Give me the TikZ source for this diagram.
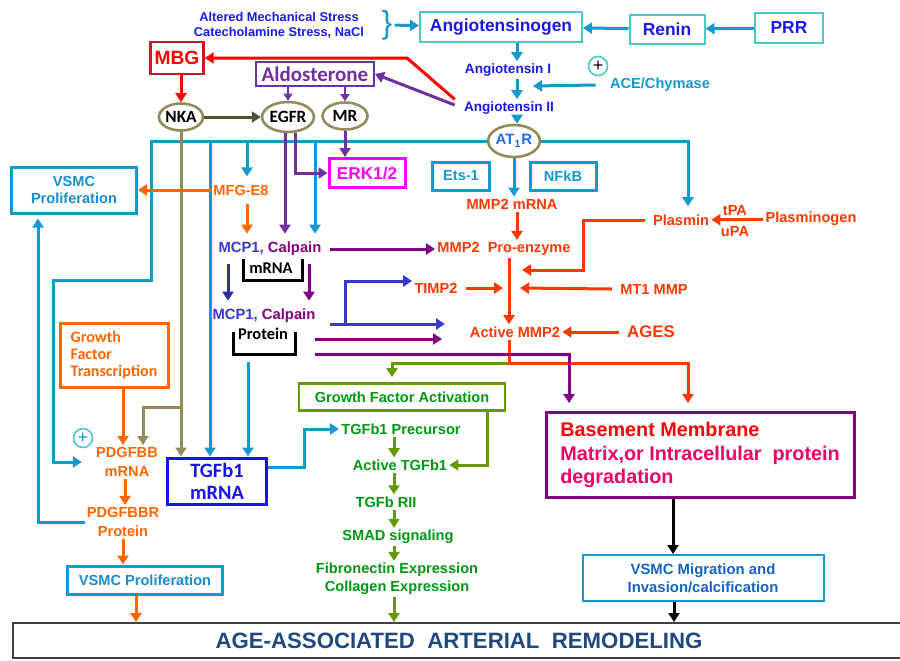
\documentclass[tikz,border=0pt]{standalone}
\usepackage{fontspec}
\setmainfont{Liberation Sans}
\newfontfamily\calfont{Carlito}
\usetikzlibrary{arrows.meta,shapes.geometric}

\definecolor{cyanln}{RGB}{22,152,205}
\definecolor{turq}{RGB}{75,200,200}
\definecolor{royal}{RGB}{25,25,230}
\definecolor{orng}{RGB}{255,102,0}
\definecolor{mmpred}{RGB}{255,55,0}
\definecolor{aldo}{RGB}{112,48,160}
\definecolor{plum}{RGB}{128,0,128}
\definecolor{khaki}{RGB}{148,138,90}
\definecolor{darkkhaki}{RGB}{80,80,50}
\definecolor{leaf}{RGB}{102,153,0}
\definecolor{grn}{RGB}{0,150,20}
\definecolor{mcp}{RGB}{55,55,210}
\definecolor{navy}{RGB}{50,50,150}
\definecolor{slate}{RGB}{31,73,125}
\definecolor{rosered}{RGB}{240,0,100}
\definecolor{mbgred}{RGB}{195,30,40}
\definecolor{vsmctxt}{RGB}{25,140,205}
\definecolor{migtxt}{RGB}{20,100,190}
\definecolor{at1txt}{RGB}{30,110,235}
\definecolor{tgfblue}{RGB}{20,20,235}
\definecolor{erkpink}{RGB}{255,0,255}

\begin{document}
\begin{tikzpicture}[x=0.5pt,y=-0.5pt,
  every node/.style={font=\bfseries\fontsize{7.3}{8.5}\selectfont,inner sep=1pt},
  ln/.style={line width=1.5pt},
  arr/.style={line width=1.5pt,-{Triangle[length=4.5pt,width=5.5pt]}},
  tarr/.style={line width=1pt,-{Triangle[length=3.5pt,width=4.5pt]}},
  bx/.style={draw,line width=1.5pt,minimum height=14pt},
  agtbox/.style={draw=turq,line width=1pt,text=royal,minimum height=15pt,font=\bfseries\fontsize{8.7}{10}\selectfont},
  oval/.style={ellipse,draw=khaki,line width=1.3pt,inner sep=0pt,font=\calfont\bfseries\fontsize{8.6}{10}\selectfont},
  pluscirc/.style={circle,draw=turq,line width=0.8pt,inner sep=0pt,minimum size=9.5pt,font=\fontsize{9}{9}\selectfont}]
\useasboundingbox (0,0) rectangle (900,660);

% renin - angiotensin chain
\node[text=royal,align=center,font=\bfseries\fontsize{6.4}{7.6}\selectfont] (stress) at (279,25) {Altered Mechanical Stress\\Catecholamine Stress, NaCl};
\node[text=cyanln,font=\fontsize{16}{16}\selectfont] (brace) at (387,25) {\}};
\node[agtbox,minimum width=81pt] (agt) at (501,27) {Angiotensinogen};
\node[agtbox,minimum width=37.5pt,minimum height=14.5pt] (renin) at (667,29) {Renin};
\node[agtbox,minimum width=34pt] (prr) at (789,28) {PRR};
\node[text=royal,font=\bfseries\fontsize{6.8}{8}\selectfont] (ang1) at (508,70) {Angiotensin I};
\node[text=royal,font=\bfseries\fontsize{6.8}{8}\selectfont] (ang2) at (509,108) {Angiotensin II};
\node[text=cyanln] (ace) at (660,85) {ACE/Chymase};
\node[pluscirc] (plusA) at (598,66) {+};
\node[oval,minimum width=25pt,minimum height=16pt,text=at1txt,font=\bfseries\fontsize{7.5}{9}\selectfont] (at1r) at (514,141) {AT\textsubscript{1}R};
\node[bx,draw=cyanln,text=cyanln,minimum width=28.5pt] (ets) at (461,176) {Ets-1};
\node[bx,draw=cyanln,text=cyanln,minimum width=33pt] (nfkb) at (563,176) {NFkB};

% MMP2 activation
\node[text=mmpred] (mmpm) at (512,204) {MMP2 mRNA};
\node[text=mmpred] (proenz) at (504,249) {MMP2\ \ Pro-enzyme};
\node[text=mmpred] (plasmin) at (681,220) {Plasmin};
\node[text=mmpred] (plgn) at (811,219) {Plasminogen};
\node[text=mmpred] (tpa) at (735,211) {tPA};
\node[text=mmpred] (upa) at (735,232) {uPA};
\node[text=mmpred] (timp) at (436,288) {TIMP2};
\node[text=mmpred] (mt1) at (654,289) {MT1 MMP};
\node[text=mmpred] (actmmp) at (515,332) {Active MMP2};
\node[text=mmpred,font=\bfseries\fontsize{8.4}{10}\selectfont] (ages) at (651,332) {AGES};

% MBG, aldosterone, receptors
\node[bx,draw=mbgred,line width=1.2pt,text=red,minimum width=26.5pt,minimum height=16pt,font=\bfseries\fontsize{9.6}{11}\selectfont] (mbg) at (177,58) {MBG};
\node[bx,draw=aldo,line width=1pt,text=aldo,minimum width=59pt,minimum height=12pt,font=\calfont\bfseries\fontsize{10.5}{12}\selectfont] (aldo) at (315,74) {Aldosterone};
\node[oval,minimum width=21.5pt,minimum height=13.5pt] (nka) at (181,117) {NKA};
\node[oval,minimum width=25pt,minimum height=15pt] (egfr) at (288,117) {EGFR};
\node[oval,minimum width=22.5pt,minimum height=13.5pt] (mr) at (345,116) {MR};
\node[bx,draw=erkpink,text=erkpink,minimum width=38pt,minimum height=14.5pt,font=\bfseries\fontsize{8.6}{10}\selectfont] (erk) at (367,173) {ERK1/2};

% MFG-E8, MCP1 and calpain
\node[bx,draw=cyanln,text=vsmctxt,align=center,minimum width=62.5pt,minimum height=23pt] (vsmcA) at (74,190) {VSMC\\Proliferation};
\node[text=orng] (mfg) at (241,190) {MFG-E8};
\node[text=mcp,font=\bfseries\fontsize{7.4}{9}\selectfont] (mcpm) at (270,249) {MCP1, \textcolor{plum}{Calpain}};
\node[font=\calfont\bfseries\fontsize{8.2}{10}\selectfont] (mrna) at (271,268) {mRNA};
\node[text=mcp,font=\bfseries\fontsize{7.4}{9}\selectfont] (mcpp) at (264,316) {MCP1, \textcolor{plum}{Calpain}};
\node[font=\calfont\bfseries\fontsize{8.2}{10}\selectfont] (prot) at (263,334) {Protein};
\draw[line width=1.5pt] (243,259) |- (302,280) -- (302,259);
\draw[line width=1.5pt] (233,332) |- (295,354) -- (295,332);

% PDGF branch
\node[bx,draw=orng,text=orng,align=left,minimum width=54pt,minimum height=32pt,font=\calfont\bfseries\fontsize{8}{8.5}\selectfont] (gft) at (114,355) {Growth\\Factor\\Transcription};
\node[pluscirc,text=cyanln] (plusB) at (83,438) {+};
\node[text=orng,align=center,font=\bfseries\fontsize{7.3}{9.5}\selectfont] (pdgf) at (127,462) {PDGFBB\\mRNA};
\node[text=orng,align=center,font=\bfseries\fontsize{7.3}{9.5}\selectfont] (pdgfr) at (123,522) {PDGFBBR\\Protein};
\node[bx,draw=cyanln,text=vsmctxt,minimum width=77.5pt] (vsmcB) at (145,580) {VSMC Proliferation};
\node[bx,draw=tgfblue,text=tgfblue,align=center,minimum width=49.5pt,minimum height=23pt,font=\calfont\bfseries\fontsize{10.2}{11}\selectfont] (tgfm) at (217,481) {TGFb1\\mRNA};

% TGF-beta signalling
\node[bx,draw=leaf,line width=1.3pt,text=grn,minimum width=103pt,minimum height=13.5pt] (gfa) at (402,397) {Growth Factor Activation};
\node[text=grn] (prec) at (401,429) {TGFb1 Precursor};
\node[text=grn] (acttgf) at (400,465) {Active TGFb1};
\node[text=grn] (rii) at (386,502) {TGFb RII};
\node[text=grn] (smad) at (398,537) {SMAD signaling};
\node[text=grn,align=center,font=\bfseries\fontsize{7.3}{9}\selectfont] (fibro) at (397,579) {Fibronectin Expression\\Collagen Expression};

% degradation and outcome
\node[bx,draw=plum,text=rosered,align=left,minimum width=154pt,minimum height=42.5pt,font=\bfseries\fontsize{9.9}{11.75}\selectfont] (bm) at (700,455) {\textcolor{red}{Basement Membrane}\\Matrix,or Intracellular\ \ protein\\degradation};
\node[bx,draw=cyanln,line width=1pt,text=migtxt,align=center,minimum width=120.5pt,minimum height=23pt,font=\bfseries\fontsize{7.45}{9}\selectfont] (mig) at (703,578) {VSMC Migration and\\Invasion/calcification};
\node[draw=black!75,line width=1pt,text=slate,anchor=west,minimum width=462pt,minimum height=17.5pt,font=\bfseries\fontsize{11.1}{13}\selectfont] (remod) at (12,640.5) {AGE-ASSOCIATED\ \ ARTERIAL\ \ REMODELING\hspace*{16pt}};

% connectors: angiotensin chain
\draw[arr,cyanln] (brace) -- (agt);
\draw[arr,cyanln] (renin) -- (agt);
\draw[arr,cyanln] (prr) -- (renin);
\draw[arr,cyanln] ([xshift=8pt]agt.south) -- ([xshift=8pt]agt.south |- ang1.north);
\draw[arr,cyanln] ([xshift=4.5pt]ang1.south) -- ([xshift=4.5pt]ang1.south |- ang2.north);
\draw[arr,cyanln] ([xshift=4pt]ang2.south) -- ([xshift=4pt]ang2.south |- at1r.north);
\coordinate (aceTip) at (533,86);
\draw[arr,cyanln] ([xshift=-6pt]ace.west) -- (aceTip);

% AT1R outputs
\coordinate (busBend) at (151,280);
\coordinate (busLeft) at (53,280);
\coordinate (tapTgf) at (210,141);
\coordinate (tapMfg) at (247,141);
\coordinate (tapMcp) at (315,141);
\draw[arr,cyanln] (at1r.west) -| (busBend) -- (busLeft) |- ([xshift=-6pt]pdgf.west);
\draw[arr,cyanln] (tapTgf) -- (tapTgf |- tgfm.north);
\draw[arr,cyanln] (tapMfg) -- ([yshift=3pt]tapMfg |- mfg.north);
\draw[arr,cyanln] (tapMcp) -- ([yshift=3pt]tapMcp |- mcpm.north);
\draw[arr,cyanln] (at1r.east) -| ([xshift=3.5pt,yshift=3pt]plasmin.north);
\draw[arr,cyanln] (at1r.south) -- (at1r.south |- mmpm.north);

% MMP2 cascade
\draw[arr,mmpred] ([xshift=2.5pt]mmpm.south) -- ([xshift=2.5pt]mmpm.south |- proenz.north);
\draw[arr,mmpred] ([xshift=2.5pt]proenz.south) -- ([xshift=2.5pt]proenz.south |- actmmp.north);
\draw[arr,mmpred] (plgn) -- (plasmin);
\coordinate (plTip) at (522,270);
\draw[arr,mmpred] ([xshift=-3pt]plasmin.west) -| ([xshift=30.5pt]plTip) -- (plTip);
\coordinate (timTip) at (503,288);
\draw[arr,mmpred] ([xshift=3pt]timp.east) -- (timTip);
\coordinate (mtTip) at (520,288);
\draw[arr,mmpred] ([xshift=-3pt]mt1.west) -- (mtTip);
\draw[arr,mmpred] ([xshift=-3pt]ages.west) -- (actmmp.east);
\coordinate (split) at (509,363);
\draw[arr,leaf] (split) -| ([xshift=-5pt,yshift=2.5pt]gfa.north);
\draw[arr,mmpred] ([xshift=-3pt]actmmp.south) -- (split) -| ([xshift=-6pt,yshift=4pt]bm.north);

% MCP1 / calpain outputs
\draw[arr,plum] ([xshift=3pt]mcpm.east) -- (proenz.west);
\draw[arr,navy] ([xshift=-21pt,yshift=-3pt]mcpm.south) -- ([xshift=-21pt,yshift=3pt]mcpm.south |- mcpp.north);
\draw[arr,plum] ([xshift=19.5pt,yshift=-3pt]mcpm.south) -- ([xshift=19.5pt,yshift=3pt]mcpm.south |- mcpp.north);
\coordinate (blueStart) at (330,324);
\coordinate (blueEnd) at (445,324);
\coordinate (timpBr) at (345,324);
\draw[arr,mcp] (blueStart) -- (blueEnd);
\draw[arr,mcp] (timpBr) |- ([yshift=3.5pt]timp.west);
\coordinate (purA) at (315,339);
\coordinate (purAend) at (442,339);
\draw[arr,plum] (purA) -- (purAend);
\coordinate (purB) at (315,354);
\draw[arr,plum] (purB) -| ([xshift=-65.5pt,yshift=4pt]bm.north);
\draw[arr,cyanln] ([xshift=-7.5pt,yshift=-10pt]prot.south) -- ([xshift=-7.5pt]prot.south |- tgfm.north);

% receptors
\coordinate (mbgBend) at (407,58);
\draw[arr,red] ([xshift=-3.5pt]ang2.north west) -- (mbgBend) -- (mbg.east);
\draw[arr,aldo] ([xshift=-3.5pt,yshift=1.5pt]ang2.west) -- (aldo.east);
\draw[arr,red] (mbg.south -| nka.north) -- (nka.north);
\draw[arr,darkkhaki] (nka) -- (egfr);
\draw[tarr,aldo] (aldo.south -| egfr.north) -- (egfr.north);
\draw[tarr,aldo] (aldo.south -| mr.north) -- (mr.north);
\draw[arr,aldo] ([xshift=-1.5pt]egfr.south) -- ([xshift=-1.5pt,yshift=3pt]egfr.south |- mcpm.north);
\draw[arr,aldo] ([xshift=3.5pt]egfr.south) |- (erk.west);
\draw[arr,aldo] (mr.south) -- (mr.south |- erk.north);
\draw[arr,khaki] (nka.south) -- (nka.south |- tgfm.north);
\coordinate (kBranch) at (181,407);
\draw[arr,khaki] (kBranch) -| ([xshift=8pt]pdgf.north);

% left side
\draw[arr,orng] (mfg) -- (vsmcA);
\draw[arr,orng] ([xshift=3pt,yshift=-3pt]mfg.south) -- ([xshift=3pt,yshift=3pt]mfg.south |- mcpm.north);
\draw[arr,orng] ([xshift=4.5pt]gft.south) -- ([xshift=4.5pt]gft.south |- pdgf.north);
\draw[arr,orng] ([xshift=-1pt]pdgf.south) -- ([xshift=-1pt]pdgf.south |- pdgfr.north);
\draw[arr,orng] (pdgfr.south) -- (pdgfr.south |- vsmcB.north);
\draw[arr,cyanln] (pdgfr.west) -| ([xshift=-18pt,yshift=-2pt]vsmcA.south);
\draw[arr,orng] ([xshift=-4.5pt]vsmcB.south) -- ([xshift=-4.5pt]vsmcB.south |- remod.north);
\draw[arr,cyanln] ([yshift=7pt]tgfm.east) -- ++(18pt,0) |- (prec.west);

% TGF-beta chain
\draw[arr,leaf] ([xshift=42.5pt]gfa.south) |- (acttgf.east);
\draw[arr,leaf] ([xshift=-3.5pt]prec.south) -- ([xshift=-3.5pt]prec.south |- acttgf.north);
\draw[arr,leaf] ([xshift=-3pt]acttgf.south) -- ([xshift=-3pt]acttgf.south |- rii.north);
\draw[arr,leaf] ([xshift=4pt]rii.south) -- ([xshift=4pt]rii.south |- smad.north);
\draw[arr,leaf] ([xshift=-2pt]smad.south) -- ([xshift=-2pt]smad.south |- fibro.north);
\draw[arr,leaf] ([xshift=-1.5pt]fibro.south) -- ([xshift=-1.5pt]fibro.south |- remod.north);

% outcome
\draw[arr] ([xshift=-13.5pt]bm.south) -- ([xshift=-13.5pt]bm.south |- mig.north);
\draw[arr] ([xshift=-14.5pt]mig.south) -- ([xshift=-14.5pt]mig.south |- remod.north);
\end{tikzpicture}
\end{document}
